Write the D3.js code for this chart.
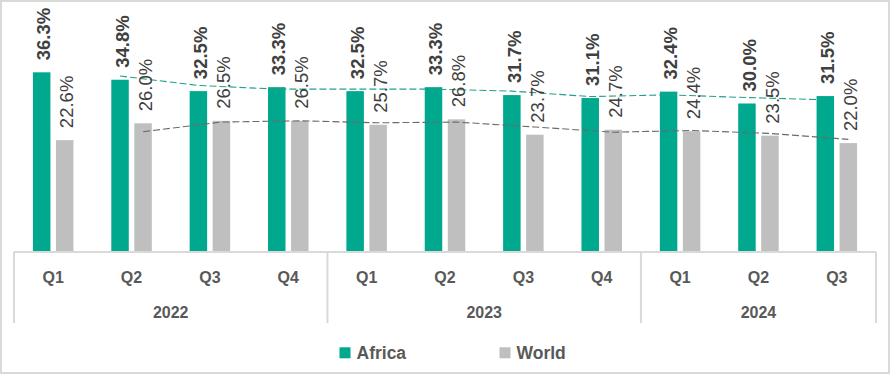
<!DOCTYPE html>
<html>
<head>
<meta charset="utf-8">
<script src="https://cdn.jsdelivr.net/npm/d3@7"></script>
<style>
  html, body { margin: 0; padding: 0; background: #fff; }
  svg { display: block; font-family: "Liberation Sans", Arial, sans-serif; }
</style>
</head>
<body>
<svg id="chart" width="891" height="375"></svg>
<script>
const quarters = ["Q1","Q2","Q3","Q4","Q1","Q2","Q3","Q4","Q1","Q2","Q3"];
const years = ["2022","2023","2024"];
const yearOf = [0,0,0,0,1,1,1,1,2,2,2];
const seriesNames = ["Africa","World"];
const africa = [36.3, 34.8, 32.5, 33.3, 32.5, 33.3, 31.7, 31.1, 32.4, 30.0, 31.5];
const world  = [22.6, 26.0, 26.5, 26.5, 25.7, 26.8, 23.7, 24.7, 24.4, 23.5, 22.0];

const colors = { Africa: "#00A88E", World: "#BFBFBF" };
const trendColors = { Africa: "#23A08A", World: "#6b6b6b" };

const svg = d3.select("#chart");

// outer border
svg.append("rect").attr("x",1).attr("y",1).attr("width",888).attr("height",372)
  .attr("fill","#fff").attr("stroke","#d9d9d9").attr("stroke-width",2);

const idx = d3.range(quarters.length);
const x = d3.scaleBand().domain(idx).range([14, 876]).padding(0);
const inner = d3.scaleBand().domain(seriesNames).range([-20.25, 20.25]).paddingInner(0.24);
const y = d3.scaleLinear().domain([0, 50]).range([252, 4.5]);

const data = { Africa: africa, World: world };

// bars
seriesNames.forEach(s => {
  svg.append("g").selectAll("rect").data(idx).join("rect")
    .attr("x", i => x(i) + x.bandwidth()/2 + inner(s))
    .attr("width", inner.bandwidth())
    .attr("y", i => y(data[s][i]))
    .attr("height", i => y(0) - y(data[s][i]))
    .attr("fill", colors[s]);
});

// trendlines: 2-period moving average
seriesNames.forEach(s => {
  const vals = data[s];
  const pts = idx.slice(1).map(i => [x(i) + x.bandwidth()/2 + inner(s) + inner.bandwidth()/2, y((vals[i] + vals[i-1]) / 2)]);
  svg.append("path").attr("d", d3.line()(pts))
    .attr("fill","none").attr("stroke", trendColors[s]).attr("stroke-width", 1.1)
    .attr("stroke-dasharray", "7,3");
});

// data labels
seriesNames.forEach(s => {
  svg.append("g").selectAll("text").data(idx).join("text")
    .attr("transform", i => `translate(${x(i) + x.bandwidth()/2 + inner(s) + inner.bandwidth()/2 + 2},${y(data[s][i]) - 12}) rotate(-90)`)
    .attr("dy", "0.36em")
    .attr("text-anchor", "start")
    .attr("font-size", "18.5px")
    .attr("font-weight", s === "Africa" ? "bold" : "normal")
    .attr("fill", "#404040")
    .text(i => data[s][i].toFixed(1) + "%");
});

// category axis (quarters)
const axis = d3.axisBottom(x).tickFormat(i => quarters[i]).tickSize(0).tickPadding(0);
const gAxis = svg.append("g").attr("transform", "translate(0,0)").call(axis);
gAxis.select(".domain").remove();
gAxis.selectAll("text")
  .attr("y", 282.5).attr("dy", null)
  .attr("font-family", "Liberation Sans, Arial, sans-serif")
  .attr("font-size", "16px").attr("font-weight", "bold").attr("fill", "#595959");

// axis box lines
const lineColor = "#d9d9d9";
svg.append("line").attr("x1", x(0)).attr("x2", x(quarters.length-1) + x.bandwidth())
  .attr("y1", y(0)).attr("y2", y(0)).attr("stroke", lineColor).attr("stroke-width", 2);
const boundaries = [0];
idx.forEach(i => { if (i > 0 && yearOf[i] !== yearOf[i-1]) boundaries.push(i); });
const bx = boundaries.map(i => x(i)).concat([x(quarters.length-1) + x.bandwidth()]);
svg.append("g").selectAll("line").data(bx).join("line")
  .attr("x1", d => d).attr("x2", d => d).attr("y1", y(0)).attr("y2", 323)
  .attr("stroke", lineColor).attr("stroke-width", 2);

// year labels
svg.append("g").selectAll("text").data(years).join("text")
  .attr("x", (yr, k) => {
    const members = idx.filter(i => yearOf[i] === k);
    return (x(members[0]) + x(members[members.length-1]) + x.bandwidth()) / 2;
  })
  .attr("y", 317.5).attr("text-anchor", "middle")
  .attr("font-size", "16px").attr("font-weight", "bold").attr("fill", "#595959")
  .text(d => d);

// legend
const legendPos = { Africa: 339.5, World: 499.5 };
seriesNames.forEach(s => {
  svg.append("rect").attr("x", legendPos[s]).attr("y", 347.3).attr("width", 11).attr("height", 11)
    .attr("fill", colors[s]);
  svg.append("text").attr("x", legendPos[s] + 17).attr("y", 359)
    .attr("font-size", "17.5px").attr("font-weight", "bold").attr("fill", "#595959")
    .text(s);
});
</script>
</body>
</html>
